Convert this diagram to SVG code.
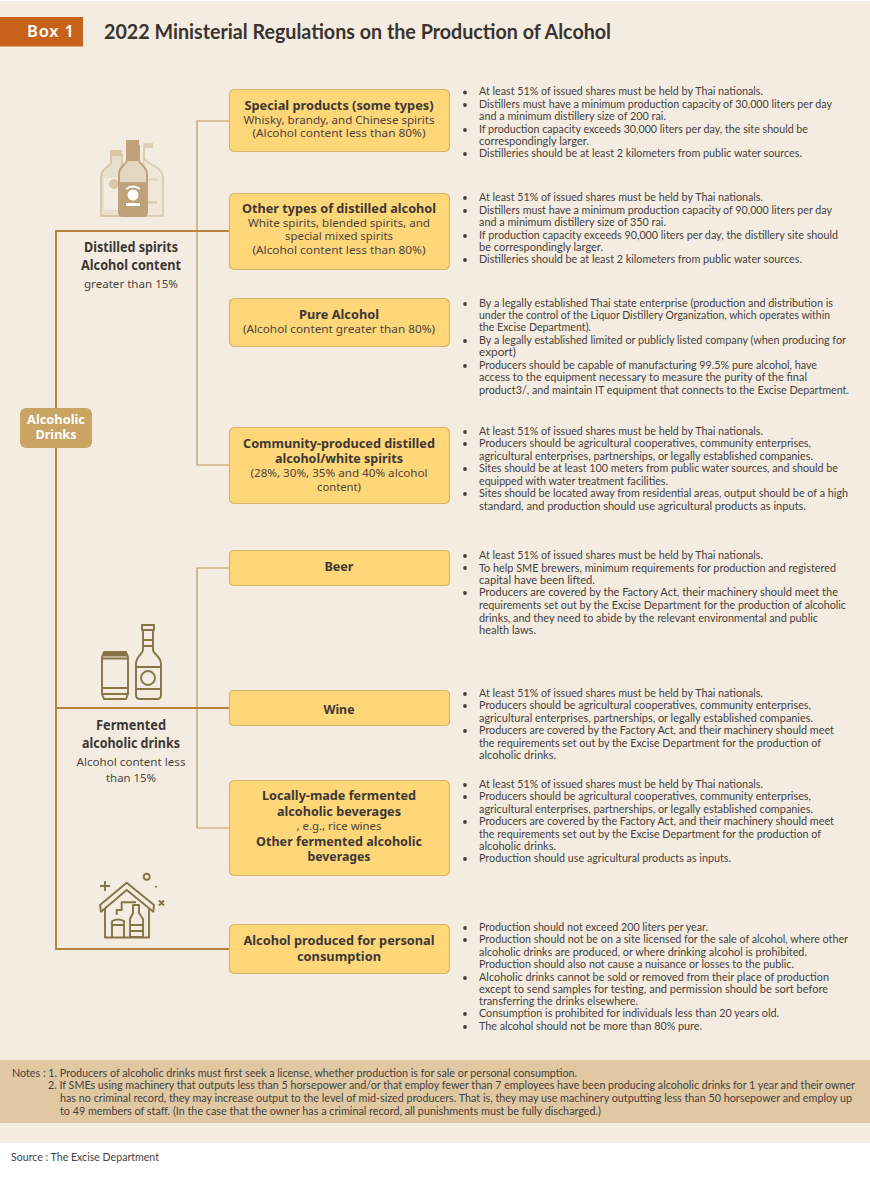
<svg xmlns="http://www.w3.org/2000/svg" width="870" height="1181" viewBox="0 0 870 1181">
<style>
text{font-family:"Lato","Noto Sans",sans-serif;fill:#45413d}
.b{font-size:11px}
.n{font-size:10.700px}
.h{font-family:"Noto Sans","Open Sans",sans-serif;font-weight:700;font-size:13px;text-anchor:middle;fill:#3c3835}
.s{font-family:"Noto Sans","Open Sans",sans-serif;font-size:11.500px;text-anchor:middle;fill:#4a4540}
.l{font-size:14px}
.w{font-family:"Noto Sans",sans-serif;font-size:13px;font-weight:700;text-anchor:middle;fill:#fff}
.card{fill:#FFD678;stroke:#D9B368;stroke-width:1.2}
.thick{fill:none;stroke:#B6853C;stroke-width:2}
.thin{fill:none;stroke:#BC9758;stroke-width:1.2}
.dot{fill:#45413d}
.ic{fill:none;stroke:#857445;stroke-width:1.900;stroke-linejoin:round}
</style>
<rect x="0" y="1" width="870" height="1142" fill="#F4ECE1"/>
<rect x="0" y="1060" width="870" height="63" fill="#E0C8A2"/>
<g id="header">
<rect x="-2" y="16.500" width="85.500" height="30.500" fill="#C8611A" stroke="#FBEFE2" stroke-width="1"/>
<text x="27" y="36.500" font-size="16.500" font-weight="600" style="fill:#fff;font-family:'Noto Sans',sans-serif" textLength="47" lengthAdjust="spacing">Box 1</text>
<text x="104" y="38.500" font-size="20.500" font-weight="700" style="fill:#38332f" textLength="507" lengthAdjust="spacingAndGlyphs">2022 Ministerial Regulations on the Production of Alcohol</text>
</g>
<g id="connectors">
<path class="thin" d="M229 121H197V465H229M229 568H197V828H229"/>
<path class="thick" d="M229 231H56V949H229M56 708H229"/>
</g>
<g id="root"><rect x="20" y="408" width="72" height="40" rx="6" fill="#C9A463"/>
<text class="w" x="56" y="424" textLength="58" lengthAdjust="spacingAndGlyphs">Alcoholic</text>
<text class="w" x="56" y="439" textLength="41" lengthAdjust="spacingAndGlyphs">Drinks</text></g>
<g id="distilled">
<path d="M144 148V158C146 164 163 166 163 178V216H142Z" fill="#EFE7D8" stroke="#DDCFB6" stroke-width="2" stroke-linejoin="round"/>
<rect x="143" y="143" width="10" height="5" fill="#DDCFB6"/>
<rect x="147" y="178" width="11" height="3" fill="#E4D8C4"/>
<rect x="147" y="201" width="10" height="3" fill="#DDCFB6"/>
<path d="M111 155V163C108 167 101 169 101 178V216H122V155Z" fill="#E9DFCD" stroke="#D9C7A8" stroke-width="2" stroke-linejoin="round"/>
<rect x="110" y="150" width="12" height="5" fill="#D9C7A8"/>
<rect x="104" y="178" width="16" height="32" fill="#F4ECE1"/>
<circle cx="114" cy="184" r="5" fill="#D9C7A8"/>
<path d="M127 146V161C126 164 119 167 119 174V212Q119 216 123 216H143Q147 216 147 212V174C147 167 140 164 139 161V146Z" fill="#E4D7C1" stroke="#BFA27A" stroke-width="2"/>
<rect x="126" y="140" width="13" height="6" fill="#BFA27A"/>
<rect x="127" y="146" width="12" height="15" fill="#BFA27A"/>
<rect x="119" y="182" width="28" height="33" fill="#BFA27A"/>
<circle cx="133" cy="195" r="5.500" fill="#fff"/>
<path d="M126 189Q133 184 140 189" fill="none" stroke="#fff" stroke-width="1.800"/>
<rect x="126" y="203" width="14" height="3" fill="#fff"/>
<text class="h l" x="131" y="252" textLength="94" lengthAdjust="spacingAndGlyphs">Distilled spirits</text>
<text class="h l" x="131" y="270" textLength="100" lengthAdjust="spacingAndGlyphs">Alcohol content</text>
<text class="s" x="131" y="288" textLength="94" lengthAdjust="spacingAndGlyphs">greater than 15%</text>
</g>
<g id="fermented">
<g class="ic">
<path d="M104 652H126L128 657V694L126 699H104L102 694V657Z"/>
<path d="M103 654.500H127" stroke-width="4"/>
<path d="M102 658.500H128M102 688H128M102 694H128"/>
<path d="M143 630V650C143 654 136 656 136 664V695Q136 699 140 699H157Q161 699 161 695V664C161 656 153 654 153 650V630Z"/>
<rect x="142" y="625" width="12" height="5"/>
<path d="M143 640H153M143 646H153M136 667H161M136 689H161"/>
<circle cx="148" cy="678" r="7"/>
</g>
<text class="h l" x="131" y="730" textLength="70" lengthAdjust="spacingAndGlyphs">Fermented</text>
<text class="h l" x="131" y="748" textLength="98" lengthAdjust="spacingAndGlyphs">alcoholic drinks</text>
<text class="s" x="131" y="766" textLength="109" lengthAdjust="spacingAndGlyphs">Alcohol content less</text>
<text class="s" x="131" y="782" textLength="50" lengthAdjust="spacingAndGlyphs">than 15%</text>
</g>
<g id="personal"><g class="ic">
<path d="M101 911.700L100 905L126.700 882.700L154 905L153.300 911.700L126.700 890Z"/>
<path d="M105 908V937.500H149V908"/>
<path d="M112 937V921Q118 918 124 921V937M112 925H124"/>
<path d="M116.700 915V910H121.700V902.300H136"/>
<path d="M133 905V913L130 919V937H143V919L139 913V905ZM130 925H143M130 931H143"/>
<path d="M105 881V891M100 886H110M159 900.500L164 905.500M164 900.500L159 905.500"/>
<circle cx="146.700" cy="876.700" r="3"/>
</g><circle cx="156" cy="886.700" r="1" fill="#857445"/></g>
<g id="special"><rect class="card" x="229.500" y="89.500" width="220" height="62" rx="5"/>
<text class="h" x="339" y="110" textLength="189" lengthAdjust="spacingAndGlyphs">Special products (some types)</text>
<text class="s" x="339" y="124" textLength="191" lengthAdjust="spacingAndGlyphs">Whisky, brandy, and Chinese spirits</text>
<text class="s" x="339" y="137" textLength="173" lengthAdjust="spacingAndGlyphs">(Alcohol content less than 80%)</text></g>
<g id="other"><rect class="card" x="229.500" y="193.500" width="220" height="76" rx="5"/>
<text class="h" x="339" y="213" textLength="194" lengthAdjust="spacingAndGlyphs">Other types of distilled alcohol</text>
<text class="s" x="339" y="227" textLength="182" lengthAdjust="spacingAndGlyphs">White spirits, blended spirits, and</text>
<text class="s" x="339" y="240" textLength="108" lengthAdjust="spacingAndGlyphs">special mixed spirits</text>
<text class="s" x="339" y="254" textLength="173" lengthAdjust="spacingAndGlyphs">(Alcohol content less than 80%)</text></g>
<g id="pure"><rect class="card" x="229.500" y="298.500" width="220" height="48" rx="5"/>
<text class="h" x="339" y="319" textLength="80" lengthAdjust="spacingAndGlyphs">Pure Alcohol</text>
<text class="s" x="339" y="333" textLength="192" lengthAdjust="spacingAndGlyphs">(Alcohol content greater than 80%)</text></g>
<g id="community"><rect class="card" x="229.500" y="427.500" width="220" height="76" rx="5"/>
<text class="h" x="339" y="448" textLength="192" lengthAdjust="spacingAndGlyphs">Community-produced distilled</text>
<text class="h" x="339" y="463" textLength="128" lengthAdjust="spacingAndGlyphs">alcohol/white spirits</text>
<text class="s" x="339" y="477" textLength="177" lengthAdjust="spacingAndGlyphs">(28%, 30%, 35% and 40% alcohol</text>
<text class="s" x="339" y="491" textLength="44" lengthAdjust="spacingAndGlyphs">content)</text></g>
<g id="beer"><rect class="card" x="229.500" y="550.500" width="220" height="35" rx="4"/>
<text class="h" x="339" y="571" textLength="29" lengthAdjust="spacingAndGlyphs">Beer</text></g>
<g id="wine"><rect class="card" x="229.500" y="690.500" width="220" height="35" rx="4"/>
<text class="h" x="339" y="714" textLength="31" lengthAdjust="spacingAndGlyphs">Wine</text></g>
<g id="local"><rect class="card" x="229.500" y="780.500" width="220" height="95" rx="5"/>
<text class="h" x="339" y="800" textLength="154" lengthAdjust="spacingAndGlyphs">Locally-made fermented</text>
<text class="h" x="339" y="816" textLength="124" lengthAdjust="spacingAndGlyphs">alcoholic beverages</text>
<text class="s" x="339" y="830" textLength="85" lengthAdjust="spacingAndGlyphs">, e.g., rice wines</text>
<text class="h" x="339" y="846" textLength="166" lengthAdjust="spacingAndGlyphs">Other fermented alcoholic</text>
<text class="h" x="339" y="861" textLength="63" lengthAdjust="spacingAndGlyphs">beverages</text></g>
<g id="homemade"><rect class="card" x="229.500" y="924.500" width="220" height="49" rx="5"/>
<text class="h" x="339" y="945" textLength="191" lengthAdjust="spacingAndGlyphs">Alcohol produced for personal</text>
<text class="h" x="339" y="961" textLength="84" lengthAdjust="spacingAndGlyphs">consumption</text></g>
<g id="requirements">
<g class="dot"><circle cx="465" cy="92.500" r="1.900"/><circle cx="465" cy="105" r="1.900"/><circle cx="465" cy="130" r="1.900"/><circle cx="465" cy="154" r="1.900"/>
<circle cx="465" cy="198" r="1.900"/><circle cx="465" cy="211" r="1.900"/><circle cx="465" cy="236" r="1.900"/><circle cx="465" cy="260" r="1.900"/>
<circle cx="465" cy="304" r="1.900"/><circle cx="465" cy="341" r="1.900"/><circle cx="465" cy="366" r="1.900"/>
<circle cx="465" cy="432" r="1.900"/><circle cx="465" cy="444" r="1.900"/><circle cx="465" cy="469" r="1.900"/><circle cx="465" cy="494" r="1.900"/>
<circle cx="465" cy="556" r="1.900"/><circle cx="465" cy="568" r="1.900"/><circle cx="465" cy="593" r="1.900"/>
<circle cx="465" cy="694" r="1.900"/><circle cx="465" cy="706" r="1.900"/><circle cx="465" cy="731" r="1.900"/>
<circle cx="465" cy="785" r="1.900"/><circle cx="465" cy="797" r="1.900"/><circle cx="465" cy="822" r="1.900"/><circle cx="465" cy="859" r="1.900"/>
<circle cx="465" cy="928" r="1.900"/><circle cx="465" cy="940" r="1.900"/><circle cx="465" cy="978" r="1.900"/><circle cx="465" cy="1014" r="1.900"/><circle cx="465" cy="1027" r="1.900"/></g>
<g class="b">
<text x="479" y="95" textLength="284" lengthAdjust="spacingAndGlyphs">At least 51% of issued shares must be held by Thai nationals.</text>
<text x="479" y="108" textLength="353" lengthAdjust="spacingAndGlyphs">Distillers must have a minimum production capacity of 30,000 liters per day</text>
<text x="479" y="120" textLength="187" lengthAdjust="spacingAndGlyphs">and a minimum distillery size of 200 rai.</text>
<text x="479" y="133" textLength="329" lengthAdjust="spacingAndGlyphs">If production capacity exceeds 30,000 liters per day, the site should be</text>
<text x="479" y="145" textLength="110" lengthAdjust="spacingAndGlyphs">correspondingly larger.</text>
<text x="479" y="157" textLength="323" lengthAdjust="spacingAndGlyphs">Distilleries should be at least 2 kilometers from public water sources.</text>
<text x="479" y="201" textLength="284" lengthAdjust="spacingAndGlyphs">At least 51% of issued shares must be held by Thai nationals.</text>
<text x="479" y="214" textLength="353" lengthAdjust="spacingAndGlyphs">Distillers must have a minimum production capacity of 90,000 liters per day</text>
<text x="479" y="226" textLength="187" lengthAdjust="spacingAndGlyphs">and a minimum distillery size of 350 rai.</text>
<text x="479" y="239" textLength="359" lengthAdjust="spacingAndGlyphs">If production capacity exceeds 90,000 liters per day, the distillery site should</text>
<text x="479" y="251" textLength="124" lengthAdjust="spacingAndGlyphs">be correspondingly larger.</text>
<text x="479" y="263" textLength="323" lengthAdjust="spacingAndGlyphs">Distilleries should be at least 2 kilometers from public water sources.</text>
<text x="479" y="307" textLength="354" lengthAdjust="spacingAndGlyphs">By a legally established Thai state enterprise (production and distribution is</text>
<text x="479" y="319" textLength="351" lengthAdjust="spacingAndGlyphs">under the control of the Liquor Distillery Organization, which operates within</text>
<text x="479" y="331" textLength="112" lengthAdjust="spacingAndGlyphs">the Excise Department).</text>
<text x="479" y="344" textLength="367" lengthAdjust="spacingAndGlyphs">By a legally established limited or publicly listed company (when producing for</text>
<text x="479" y="356" textLength="37" lengthAdjust="spacingAndGlyphs">export)</text>
<text x="479" y="369" textLength="338" lengthAdjust="spacingAndGlyphs">Producers should be capable of manufacturing 99.5% pure alcohol, have</text>
<text x="479" y="381" textLength="328" lengthAdjust="spacingAndGlyphs">access to the equipment necessary to measure the purity of the final</text>
<text x="479" y="394" textLength="370" lengthAdjust="spacingAndGlyphs">product3/, and maintain IT equipment that connects to the Excise Department.</text>
<text x="479" y="435" textLength="284" lengthAdjust="spacingAndGlyphs">At least 51% of issued shares must be held by Thai nationals.</text>
<text x="479" y="447" textLength="332" lengthAdjust="spacingAndGlyphs">Producers should be agricultural cooperatives, community enterprises,</text>
<text x="479" y="460" textLength="334" lengthAdjust="spacingAndGlyphs">agricultural enterprises, partnerships, or legally established companies.</text>
<text x="479" y="472" textLength="359" lengthAdjust="spacingAndGlyphs">Sites should be at least 100 meters from public water sources, and should be</text>
<text x="479" y="485" textLength="189" lengthAdjust="spacingAndGlyphs">equipped with water treatment facilities.</text>
<text x="479" y="497" textLength="369" lengthAdjust="spacingAndGlyphs">Sites should be located away from residential areas, output should be of a high</text>
<text x="479" y="510" textLength="327" lengthAdjust="spacingAndGlyphs">standard, and production should use agricultural products as inputs.</text>
<text x="479" y="559" textLength="284" lengthAdjust="spacingAndGlyphs">At least 51% of issued shares must be held by Thai nationals.</text>
<text x="479" y="572" textLength="357" lengthAdjust="spacingAndGlyphs">To help SME brewers, minimum requirements for production and registered</text>
<text x="479" y="584" textLength="116" lengthAdjust="spacingAndGlyphs">capital have been lifted.</text>
<text x="479" y="596" textLength="359" lengthAdjust="spacingAndGlyphs">Producers are covered by the Factory Act, their machinery should meet the</text>
<text x="479" y="609" textLength="367" lengthAdjust="spacingAndGlyphs">requirements set out by the Excise Department for the production of alcoholic</text>
<text x="479" y="622" textLength="339" lengthAdjust="spacingAndGlyphs">drinks, and they need to abide by the relevant environmental and public</text>
<text x="479" y="634" textLength="57" lengthAdjust="spacingAndGlyphs">health laws.</text>
<text x="479" y="697" textLength="284" lengthAdjust="spacingAndGlyphs">At least 51% of issued shares must be held by Thai nationals.</text>
<text x="479" y="709" textLength="332" lengthAdjust="spacingAndGlyphs">Producers should be agricultural cooperatives, community enterprises,</text>
<text x="479" y="722" textLength="334" lengthAdjust="spacingAndGlyphs">agricultural enterprises, partnerships, or legally established companies.</text>
<text x="479" y="734" textLength="355" lengthAdjust="spacingAndGlyphs">Producers are covered by the Factory Act, and their machinery should meet</text>
<text x="479" y="747" textLength="342" lengthAdjust="spacingAndGlyphs">the requirements set out by the Excise Department for the production of</text>
<text x="479" y="759" textLength="77" lengthAdjust="spacingAndGlyphs">alcoholic drinks.</text>
<text x="479" y="788" textLength="284" lengthAdjust="spacingAndGlyphs">At least 51% of issued shares must be held by Thai nationals.</text>
<text x="479" y="800" textLength="332" lengthAdjust="spacingAndGlyphs">Producers should be agricultural cooperatives, community enterprises,</text>
<text x="479" y="813" textLength="334" lengthAdjust="spacingAndGlyphs">agricultural enterprises, partnerships, or legally established companies.</text>
<text x="479" y="825" textLength="355" lengthAdjust="spacingAndGlyphs">Producers are covered by the Factory Act, and their machinery should meet</text>
<text x="479" y="838" textLength="342" lengthAdjust="spacingAndGlyphs">the requirements set out by the Excise Department for the production of</text>
<text x="479" y="850" textLength="77" lengthAdjust="spacingAndGlyphs">alcoholic drinks.</text>
<text x="479" y="862" textLength="252" lengthAdjust="spacingAndGlyphs">Production should use agricultural products as inputs.</text>
<text x="479" y="931" textLength="229" lengthAdjust="spacingAndGlyphs">Production should not exceed 200 liters per year.</text>
<text x="479" y="943" textLength="369" lengthAdjust="spacingAndGlyphs">Production should not be on a site licensed for the sale of alcohol, where other</text>
<text x="479" y="956" textLength="328" lengthAdjust="spacingAndGlyphs">alcoholic drinks are produced, or where drinking alcohol is prohibited.</text>
<text x="479" y="968" textLength="315" lengthAdjust="spacingAndGlyphs">Production should also not cause a nuisance or losses to the public.</text>
<text x="479" y="981" textLength="350" lengthAdjust="spacingAndGlyphs">Alcoholic drinks cannot be sold or removed from their place of production</text>
<text x="479" y="993" textLength="349" lengthAdjust="spacingAndGlyphs">except to send samples for testing, and permission should be sort before</text>
<text x="479" y="1005" textLength="159" lengthAdjust="spacingAndGlyphs">transferring the drinks elsewhere.</text>
<text x="479" y="1017" textLength="300" lengthAdjust="spacingAndGlyphs">Consumption is prohibited for individuals less than 20 years old.</text>
<text x="479" y="1030" textLength="223" lengthAdjust="spacingAndGlyphs">The alcohol should not be more than 80% pure.</text>
</g></g>
<g id="notes">
<text class="n" x="12" y="1077" textLength="565" lengthAdjust="spacingAndGlyphs">Notes : 1. Producers of alcoholic drinks must first seek a license, whether production is for sale or personal consumption.</text>
<text class="n" x="48" y="1089" textLength="807" lengthAdjust="spacingAndGlyphs">2. If SMEs using machinery that outputs less than 5 horsepower and/or that employ fewer than 7 employees have been producing alcoholic drinks for 1 year and their owner</text>
<text class="n" x="60" y="1102" textLength="792" lengthAdjust="spacingAndGlyphs">has no criminal record, they may increase output to the level of mid-sized producers. That is, they may use machinery outputting less than 50 horsepower and employ up</text>
<text class="n" x="60" y="1115" textLength="541" lengthAdjust="spacingAndGlyphs">to 49 members of staff. (In the case that the owner has a criminal record, all punishments must be fully discharged.)</text>
<text class="n" x="11" y="1161" textLength="148" lengthAdjust="spacingAndGlyphs">Source : The Excise Department</text>
</g>
</svg>
